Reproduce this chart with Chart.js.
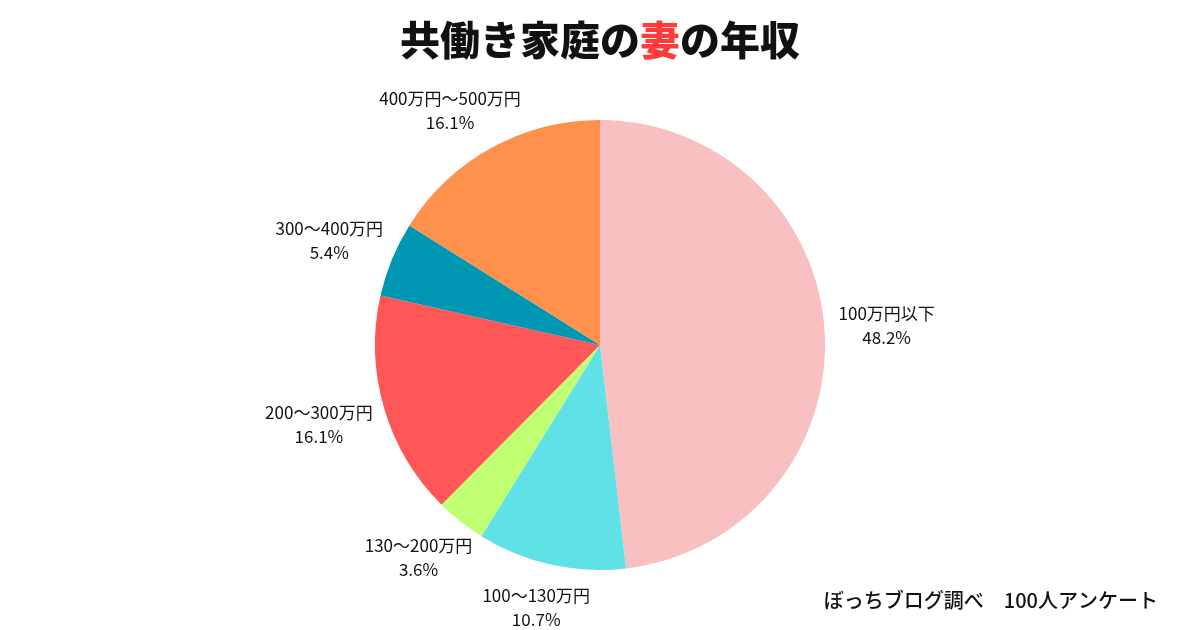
<!DOCTYPE html>
<html>
<head>
<meta charset="utf-8">
<script src="https://cdn.jsdelivr.net/npm/chart.js@4"></script>
<style>
html, body { margin: 0; padding: 0; background: #fff; }
#wrap { width: 1200px; height: 630px; position: relative; }
</style>
</head>
<body>
<div id="wrap"><canvas id="myChart" width="1200" height="630"></canvas></div>
<script>
// 共働き家庭の妻の年収
var labels = ["100万円以下", "100〜130万円", "130〜200万円", "200〜300万円", "300〜400万円", "400万円〜500万円"];
var values = [48.2, 10.7, 3.6, 16.1, 5.4, 16.1];
var colors = ["#F8C0C0", "#5FE1E6", "#C1FF72", "#FF5757", "#0097B2", "#FF914D"];

var fontJP = '"Noto Sans CJK JP", "Noto Sans", sans-serif';

// タイトル・ラベル・出典
var textPlugin = {
    id: 'texts',
    afterDraw: function (chart) {
        var c = chart.ctx;
        c.save();

        // title, 妻 in red
        var parts = [["共働き家庭の", "#111"], ["妻", "#FF3B3B"], ["の年収", "#111"]];
        c.font = '900 40px ' + fontJP;
        c.textBaseline = 'middle';
        c.textAlign = 'left';
        var total = 0;
        parts.forEach(function (p) { total += c.measureText(p[0]).width; });
        var x = 600 - total / 2;
        parts.forEach(function (p) {
            c.fillStyle = p[1];
            c.fillText(p[0], x, 40);
            x += c.measureText(p[0]).width;
        });

        // slice labels, box pushed outward from an anchor just outside the arc
        var arcs = chart.getDatasetMeta(0).data;
        c.font = '17px ' + fontJP;
        c.fillStyle = '#111';
        c.textAlign = 'center';
        var lineGap = 24;
        arcs.forEach(function (arc, i) {
            var pct = values[i].toFixed(1) + '%';
            var mid = (arc.startAngle + arc.endAngle) / 2;
            var dx = Math.cos(mid), dy = Math.sin(mid);
            var w = Math.max(c.measureText(labels[i]).width, c.measureText(pct).width);
            var h = 48;
            var r = arc.outerRadius + 14;
            var lx = arc.x + dx * r + dx * w / 2;
            var ly = arc.y + dy * r + dy * h / 2 + (dy > 0 ? 6 : -4);
            c.fillText(labels[i], lx, ly - lineGap / 2);
            c.fillText(pct, lx, ly + lineGap / 2);
        });

        // source
        c.font = '500 20px ' + fontJP;
        c.textAlign = 'right';
        c.fillStyle = '#111';
        c.fillText('ぼっちブログ調べ　100人アンケート', 1158, 600);
        c.restore();
    }
};

var ctx = document.getElementById("myChart").getContext('2d');
var myChart = new Chart(ctx, {
    type: 'pie',
    data: {
        labels: labels,
        datasets: [{
            data: values,
            backgroundColor: colors,
            borderWidth: 0
        }]
    },
    options: {
        responsive: false,
        animation: false,
        layout: {
            padding: { top: 120, bottom: 60, left: 0, right: 0 }
        },
        plugins: {
            legend: { display: false },
            tooltip: { enabled: false }
        }
    },
    plugins: [textPlugin]
});
</script>
</body>
</html>
